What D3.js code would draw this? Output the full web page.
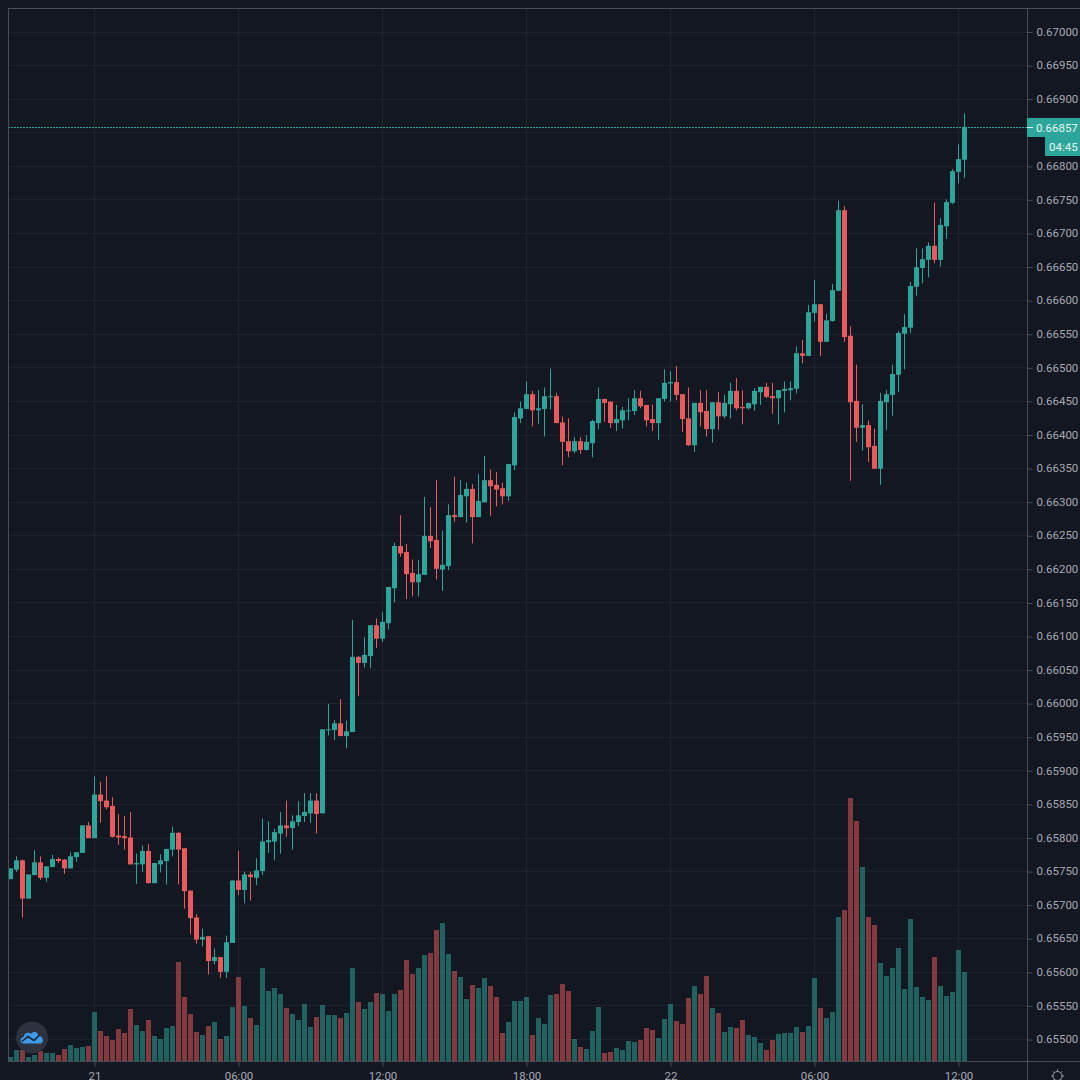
<!DOCTYPE html>
<html>
<head>
<meta charset="utf-8">
<script src="https://cdn.jsdelivr.net/npm/d3@7/dist/d3.min.js"></script>
<style>
html,body{margin:0;padding:0;background:#131722;overflow:hidden}
svg{display:block}
text{font-family:Roboto,sans-serif}
</style>
</head>
<body>
<svg id="c" width="1080" height="1080"></svg>
<script>
// Prices in 1e-5 units, 15-minute candles
const open = [65738,65752,65766,65709,65744,65763,65740,65756,65768,65767,
65754,65771,65777,65818,65799,65864,65855,65847,65803,65802,
65800,65760,65760,65780,65732,65760,65765,65782,65807,65784,
65721,65681,65648,65653,65616,65622,65600,65643,65736,65722,
65745,65740,65750,65793,65794,65806,65818,65814,65823,65832,
65836,65855,65836,65960,65960,65970,65951,65957,66069,66060,
66070,66116,66096,66119,66171,66234,66225,66194,66180,66191,
66249,66243,66199,66204,66280,66277,66308,66319,66277,66299,
66332,66325,66320,66308,66354,66424,66438,66460,66436,66438,
66456,66457,66418,66390,66375,66390,66377,66387,66417,66453,
66449,66417,66421,66435,66435,66454,66444,66423,66417,66453,
66476,66478,66460,66424,66384,66447,66435,66408,66448,66427,
66445,66465,66441,66439,66445,66463,66471,66457,66454,66465,
66466,66468,66521,66517,66581,66594,66538,66569,66614,66734,
66547,66450,66410,66414,66383,66349,66448,66459,66489,66550,
66559,66620,66648,66660,66681,66660,66710,66745,66791,66809];
const close = [65754,65766,65709,65745,65763,65740,65757,65768,65765,65754,
65772,65778,65818,65799,65864,65854,65845,65801,65800,65799,
65760,65762,65780,65732,65762,65766,65783,65807,65782,65720,
65680,65648,65652,65616,65622,65600,65644,65736,65722,65745,
65741,65751,65794,65796,65808,65818,65814,65824,65833,65838,
65855,65835,65961,65961,65970,65951,65958,66069,66060,66072,
66116,66096,66121,66173,66234,66223,66192,66180,66192,66249,
66241,66200,66206,66280,66277,66310,66319,66277,66301,66332,
66323,66318,66308,66356,66426,66439,66460,66436,66439,66457,
66457,66417,66389,66375,66390,66377,66389,66420,66453,66447,
66417,66423,66436,66436,66454,66442,66421,66417,66454,66477,
66478,66459,66423,66384,66447,66433,66408,66448,66427,66447,
66465,66439,66439,66447,66465,66471,66456,66454,66466,66468,
66469,66521,66517,66582,66594,66538,66570,66615,66734,66545,
66448,66410,66414,66381,66349,66450,66460,66490,66551,66560,
66621,66649,66661,66681,66660,66712,66746,66792,66810,66858];
const high = [65754,65772,65767,65745,65781,65772,65757,65774,65770,65768,
65778,65778,65818,65823,65891,65883,65891,65860,65835,65832,
65838,65776,65788,65790,65762,65775,65783,65816,65808,65784,
65721,65686,65664,65653,65635,65622,65654,65736,65780,65749,
65749,65769,65828,65824,65813,65838,65855,65833,65854,65866,
65866,65866,65961,65999,65975,66006,65974,66124,66070,66098,
66116,66126,66136,66173,66239,66280,66237,66214,66213,66307,
66292,66332,66257,66296,66337,66332,66328,66326,66341,66368,
66348,66344,66328,66356,66433,66449,66479,66465,66466,66470,
66498,66462,66427,66424,66396,66396,66399,66422,66470,66453,
66449,66444,66441,66454,66466,66465,66444,66445,66454,66497,
66494,66502,66460,66470,66447,66466,66466,66448,66463,66459,
66477,66484,66466,66447,66469,66471,66477,66477,66466,66479,
66479,66531,66541,66593,66630,66594,66580,66624,66748,66740,
66561,66504,66445,66421,66409,66462,66466,66504,66554,66579,
66627,66677,66677,66686,66745,66722,66750,66795,66832,66878];
const low = [65738,65749,65681,65709,65744,65737,65734,65756,65762,65746,
65754,65764,65777,65799,65799,65822,65842,65800,65789,65782,
65760,65731,65749,65732,65732,65748,65730,65772,65730,65694,
65656,65642,65638,65596,65611,65591,65591,65643,65714,65702,
65706,65729,65744,65777,65766,65776,65801,65782,65817,65823,
65822,65806,65836,65952,65945,65951,65933,65957,66011,66053,
66052,66082,66091,66110,66150,66218,66155,66159,66159,66191,
66231,66184,66167,66198,66270,66277,66269,66238,66277,66299,
66279,66293,66296,66301,66347,66417,66438,66412,66416,66397,
66437,66417,66354,66366,66372,66371,66376,66366,66408,66419,
66410,66405,66409,66421,66429,66439,66412,66405,66392,66449,
66449,66451,66404,66383,66374,66412,66397,66388,66407,66424,
66424,66436,66415,66437,66435,66444,66454,66431,66415,66433,
66451,66461,66506,66517,66568,66517,66538,66568,66614,66538,
66331,66389,66376,66359,66349,66325,66407,66428,66463,66497,
66551,66607,66625,66634,66655,66650,66691,66743,66774,66782];
const volume = [4,11,11,4,6,10,8,8,6,12,
16,13,14,15,49,30,25,21,32,28,
52,36,30,41,25,22,33,35,99,64,
47,29,26,35,39,22,25,54,84,55,
43,36,93,70,73,67,53,47,41,57,
34,44,56,46,46,43,48,93,59,52,
59,68,67,50,67,71,101,87,93,106,
108,131,138,107,90,84,62,76,73,83,
75,64,28,39,60,60,64,26,43,37,
66,67,77,70,22,14,12,30,54,8,
9,13,11,20,19,21,33,31,23,42,
57,40,37,63,75,67,85,53,48,29,
34,33,41,26,24,18,11,21,27,28,
28,34,29,35,83,53,43,49,144,151,
263,240,194,144,136,98,85,93,113,72,
142,74,64,61,104,75,65,69,111,89];
const priceTicks = d3.range(65500, 67001, 50);
const hiddenPriceTick = 66850; // covered by the last-price tag
const timeTickIndex = [14,38,62,86,110,134,158];
const timeTickLabels = ["21","06:00","12:00","18:00","22","06:00","12:00"];
const lastPrice = 66857;
const lastPriceLabel = "0.66857";
const countdownLabel = "04:45";

const W = 1080, H = 1080, L = 8, T = 8, R = 1027, B = 1061;
const UP = "#2ca69a", DOWN = "#e85a5b", BG = "#131722";
const GRID = "#1e222d", AXIS = "#4a4d57", TXT = "#a6a9b2", FS = 11.5;

const svg = d3.select("#c");
const x = d3.scaleLinear().domain([0, 159]).range([10.5, 964.5]);
const y = d3.scaleLinear().domain([65500, 67000]).range([1039, 31.5]);
const yv = d3.scaleLinear().domain([0, 264]).range([1061, 797]);
const snap = v => Math.round(v) + 0.5;

// grid
const grid = svg.append("g").attr("shape-rendering", "crispEdges").attr("stroke", GRID);
grid.selectAll(".h").data(priceTicks).join("line")
  .attr("x1", L).attr("x2", R).attr("y1", d => snap(y(d))).attr("y2", d => snap(y(d)));
grid.selectAll(".v").data(timeTickIndex).join("line")
  .attr("y1", T).attr("y2", B).attr("x1", d => x(d)).attr("x2", d => x(d));

const plot = svg.append("g");
const idx = d3.range(close.length);
const col = i => close[i] >= open[i] ? UP : DOWN;

// volume
plot.append("g").attr("fill-opacity", 0.52).selectAll("rect").data(idx).join("rect")
  .attr("x", i => x(i) - 2.5).attr("width", 5)
  .attr("y", i => yv(volume[i])).attr("height", i => yv(0) - yv(volume[i]))
  .attr("fill", col);

// wicks
plot.append("g").selectAll("line").data(idx).join("line")
  .attr("x1", i => x(i)).attr("x2", i => x(i))
  .attr("y1", i => y(high[i])).attr("y2", i => y(low[i]))
  .attr("stroke", col).attr("stroke-width", 1);

// bodies
plot.append("g").selectAll("rect").data(idx).join("rect")
  .attr("x", i => x(i) - 2.5).attr("width", 5)
  .attr("y", i => y(Math.max(open[i], close[i])))
  .attr("height", i => Math.max(1, Math.abs(y(open[i]) - y(close[i]))))
  .attr("fill", col);

// last price line
svg.append("line").attr("x1", L).attr("x2", R)
  .attr("y1", snap(y(lastPrice)) - 1).attr("y2", snap(y(lastPrice)) - 1)
  .attr("stroke", UP).attr("stroke-dasharray", "2 1").attr("shape-rendering", "crispEdges");

// frame
const frame = svg.append("g").attr("stroke", AXIS).attr("shape-rendering", "crispEdges");
frame.append("line").attr("x1", L).attr("x2", W).attr("y1", T + .5).attr("y2", T + .5);
frame.append("line").attr("x1", L + .5).attr("x2", L + .5).attr("y1", T).attr("y2", B);

// price axis
const yAxis = d3.axisRight(y).tickValues(priceTicks.filter(d => d !== hiddenPriceTick))
  .tickFormat(d => (d / 1e5).toFixed(5)).tickSize(5).tickPadding(4);
const gy = svg.append("g").attr("transform", `translate(${R + .5},0)`).call(yAxis);
gy.select(".domain").attr("stroke", AXIS).attr("d", `M0,${T}V${H}`);
gy.selectAll(".tick line").attr("stroke", AXIS).attr("y1", .5).attr("y2", .5);
gy.selectAll(".tick text").attr("fill", TXT).attr("font-size", FS).attr("font-family", "Roboto,sans-serif");

// time axis
const xAxis = d3.axisBottom(x).tickValues(timeTickIndex)
  .tickFormat((d, i) => timeTickLabels[i]).tickSize(5).tickPadding(5);
const gx = svg.append("g").attr("transform", `translate(0,${B + .5})`).call(xAxis);
gx.select(".domain").attr("stroke", AXIS).attr("d", `M${L},0H${W}`);
gx.selectAll(".tick line").attr("stroke", AXIS);
gx.selectAll(".tick text").attr("fill", TXT).attr("font-size", FS).attr("font-family", "Roboto,sans-serif");

// price label and countdown
svg.append("rect").attr("x", R).attr("y", 118).attr("width", W - R).attr("height", 19).attr("fill", UP);
svg.append("line").attr("x1", R).attr("x2", R + 6).attr("y1", 127.5).attr("y2", 127.5).attr("stroke", "#dff3f1");
svg.append("text").attr("x", 1036).attr("y", 131.7).attr("fill", "#e8f6f5").attr("font-size", FS).text(lastPriceLabel);
svg.append("rect").attr("x", 1045).attr("y", 137).attr("width", W - 1045).attr("height", 19).attr("fill", UP);
svg.append("text").attr("x", 1049).attr("y", 151).attr("fill", "#e8f6f5").attr("font-size", FS).text(countdownLabel);

// logo
const logo = svg.append("g").attr("transform", "translate(32,1037.5)");
logo.append("circle").attr("r", 16).attr("fill", "#2f3441").attr("fill-opacity", .95);
logo.append("path").attr("fill", "#3d9be9")
  .attr("d", "M-8,6 C-12.5,6 -12.5,0 -8.5,-0.5 C-8,-5 -3,-6 -1,-3.5 C1,-6.5 6,-6 6.5,-1.5 C11.5,-2 12.5,6 8,6 Z");
logo.append("path").attr("fill", "none").attr("stroke", "#1c2330").attr("stroke-width", 1.6)
  .attr("d", "M-10,4 L-4,-1 L2,3 L8,-3");

// settings gear
const gear = svg.append("g").attr("transform", "translate(1057.5,1076)").attr("stroke", "#9a9da6").attr("fill", "none");
gear.append("circle").attr("r", 4.5);
d3.range(0, 360, 45).forEach(a => {
  const r = a * Math.PI / 180;
  gear.append("line").attr("x1", 4.5 * Math.cos(r)).attr("y1", 4.5 * Math.sin(r))
    .attr("x2", 6.5 * Math.cos(r)).attr("y2", 6.5 * Math.sin(r));
});
</script>
</body>
</html>
